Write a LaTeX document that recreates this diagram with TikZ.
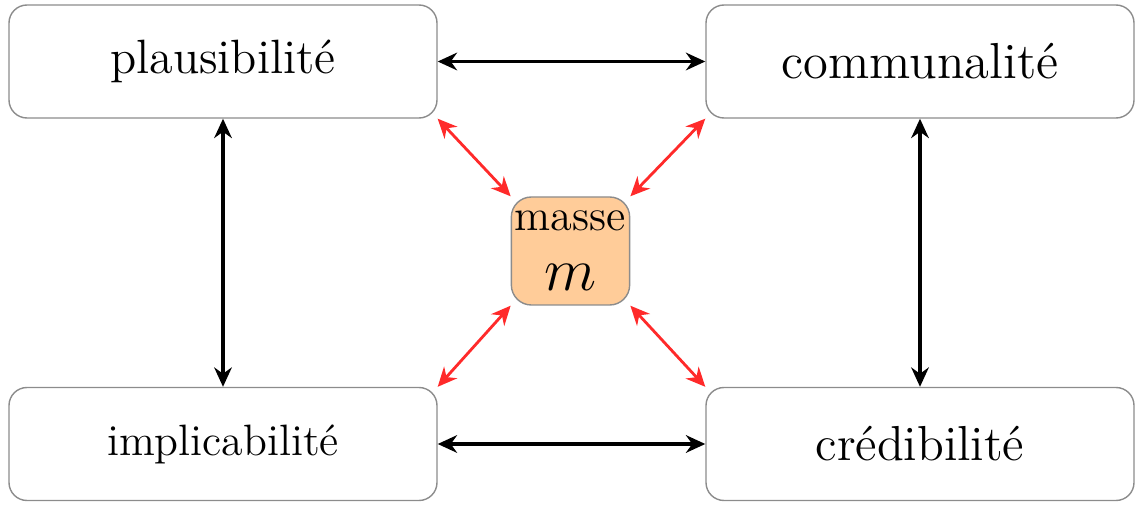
\documentclass[tikz,border=0pt]{standalone}
\usetikzlibrary{arrows.meta}
\definecolor{bordgris}{HTML}{8C8C8C}
\definecolor{massefond}{HTML}{FFCC99}
\definecolor{rougelien}{HTML}{FF2A2A}

\begin{document}
\begin{tikzpicture}[
    bloc/.style={draw=bordgris, rounded corners=0.18cm, minimum width=4.28cm, minimum height=1.13cm},
    lien/.style={line width=1pt, {Stealth[length=5.5pt,width=5pt]}-{Stealth[length=5.5pt,width=5pt]}},
    lienrouge/.style={rougelien, line width=0.8pt, {Stealth[length=5.5pt,width=5pt]}-{Stealth[length=5.5pt,width=5pt]}}
]
    \useasboundingbox (0,0) rectangle (11.37,5.05);

    % Fonctions de croyance
    \node[bloc, font=\fontsize{13.7}{16}\selectfont] (plaus) at (2.23,4.435) {plausibilité};
    \node[bloc, font=\fontsize{14.4}{17}\selectfont] (commu) at (9.20,4.435) {communalité};
    \node[bloc, font=\fontsize{12.5}{15}\selectfont] (impli) at (2.23,0.61) {implicabilité};
    \node[bloc, font=\fontsize{14}{17}\selectfont] (credi) at (9.20,0.61) {crédibilité};

    % Masse au centre
    \node[draw=bordgris, fill=massefond, rounded corners=0.2cm, minimum width=1.17cm, minimum height=1.08cm,
          inner sep=1pt, align=center, font=\fontsize{12.6}{14}\selectfont] (masse) at (5.705,2.54)
          {masse\\[3pt]{\LARGE $m$}};

    % Liens entre fonctions
    \draw[lien] (plaus) -- (commu);
    \draw[lien] (impli) -- (credi);
    \draw[lien] (plaus) -- (impli);
    \draw[lien] (commu) -- (credi);

    % Liens avec la masse
    \draw[lienrouge] (plaus.south east) -- (masse.north west);
    \draw[lienrouge] (commu.south west) -- (masse.north east);
    \draw[lienrouge] (impli.north east) -- (masse.south west);
    \draw[lienrouge] (credi.north west) -- (masse.south east);

\end{tikzpicture}
\end{document}
